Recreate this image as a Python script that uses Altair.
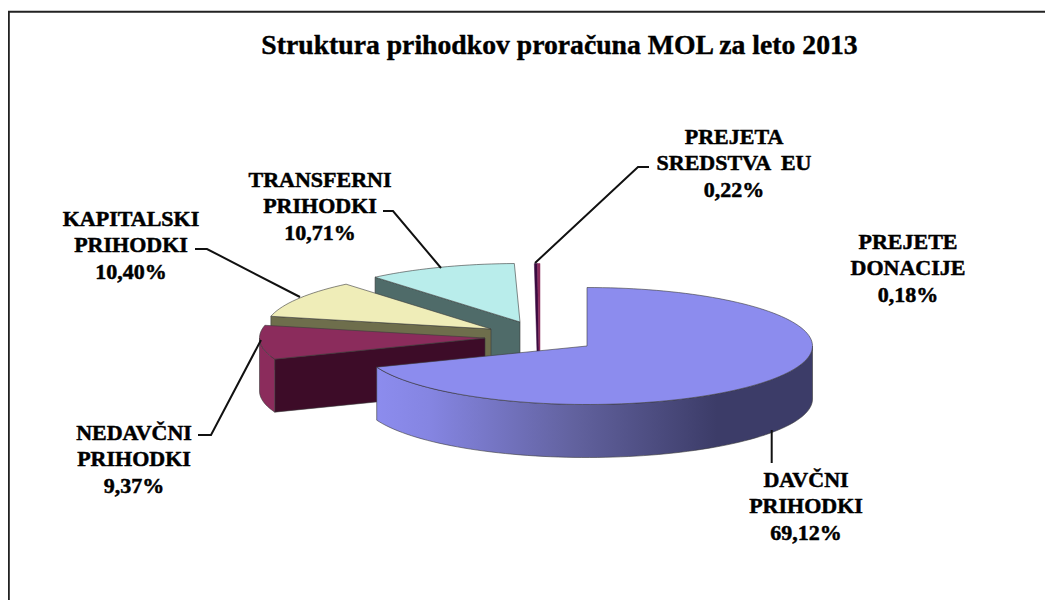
import math
import altair as alt
import pandas as pd

# ---- data ----
categories = ["DAVČNI PRIHODKI", "NEDAVČNI PRIHODKI", "KAPITALSKI PRIHODKI",
              "TRANSFERNI PRIHODKI", "PREJETA SREDSTVA EU", "PREJETE DONACIJE"]
shares = [69.12, 9.37, 10.40, 10.71, 0.22, 0.18]
title_text = "Struktura prihodkov proračuna MOL za leto 2013"
label_lines = [
    ["DAVČNI", "PRIHODKI", "69,12%"],
    ["NEDAVČNI", "PRIHODKI", "9,37%"],
    ["KAPITALSKI", "PRIHODKI", "10,40%"],
    ["TRANSFERNI", "PRIHODKI", "10,71%"],
    ["PREJETA", "SREDSTVA \u00a0EU", "0,22%"],
    ["PREJETE", "DONACIJE", "0,18%"],
]

# ---- layout (page pixels of the picture) ----
W, H = 1037, 592
OX, OY = 8, 8
A, B, DEPTH = 225.5, 58.5, 53
APEX = [(587, 346), (485, 338), (491, 329), (520, 322), (540, 322), (540, 322)]
TOP = ["#8C8CEE", "#8B2C5C", "#EFEDB8", "#B9EDEB", "#3A0A40", "#8B2C5C"]
SIDE = [None, "#8B2C5C", "#6E6E4C", "#4F6B69", "#3A0A40", "#8B2C5C"]
RADIAL = [None, "#3D0C28", "#6E6E4C", "#4F6B69", None, None]
LABEL_POS = [(806, 480), (134, 433), (131, 219), (320, 180), (734, 137), (908, 242)]
LINE_GAP = 26.3
LEADERS = [
    [(771.7, 430), (771.7, 463)],
    [(198, 435), (211, 435), (261, 340)],
    [(195, 249), (207, 249), (300, 297)],
    [(383, 211), (393, 211), (441, 268)],
    [(649, 167), (638, 167), (535, 263)],
]

# slice angles follow from the shares
edges = [0.0]
for s in shares:
    edges.append(edges[-1] + s * 3.6)


def rim(apex, t0, t1, dy=0.0):
    n = max(2, int(abs(t1 - t0) / 2) + 2)
    pts = []
    for i in range(n):
        t = math.radians(t0 + (t1 - t0) * i / (n - 1))
        pts.append((apex[0] + A * math.sin(t), apex[1] - B * math.cos(t) + dy))
    return pts


def x_scale():
    return alt.Scale(domain=[0, W], range=[0, W])


def y_scale():
    return alt.Scale(domain=[0, H], range=[0, H])


def poly(pts, fill, stroke="#3a3a3a", sw=0.6):
    pts = list(pts) + [pts[0]]
    df = pd.DataFrame({"x": [p[0] - OX for p in pts], "y": [p[1] - OY for p in pts],
                       "i": list(range(len(pts)))})
    return alt.Chart(df).mark_line(fill=fill, stroke=stroke, strokeWidth=sw, interpolate="linear").encode(
        x=alt.X("x:Q", scale=x_scale(), axis=None),
        y=alt.Y("y:Q", scale=y_scale(), axis=None),
        order="i:Q",
    )


def slice_layers(k, side_fill=None):
    ap = APEX[k]
    t0, t1 = edges[k], edges[k + 1]
    out = []
    # radial wall along the leading edge
    if RADIAL[k]:
        p = rim(ap, t0, t0)[0]
        out.append(poly([p, ap, (ap[0], ap[1] + DEPTH), (p[0], p[1] + DEPTH)], RADIAL[k]))
    # outer wall: the visible front part of the rim
    lo, hi = max(t0, 90), min(t1, 270)
    if lo < hi:
        front = rim(ap, lo, hi)
        back = rim(ap, hi, lo, DEPTH)
        out.append(poly(front + back, side_fill or SIDE[k]))
    # top face
    out.append(poly([ap] + rim(ap, t0, t1), TOP[k]))
    return out


wall_gradient = alt.Gradient(
    gradient="linear", x1=0, y1=0, x2=1, y2=0,
    stops=[alt.GradientStop(offset=0, color="#8C8CEE"),
           alt.GradientStop(offset=0.12, color="#8585E2"),
           alt.GradientStop(offset=0.45, color="#62629F"),
           alt.GradientStop(offset=0.78, color="#3C3C68"),
           alt.GradientStop(offset=1, color="#3C3C68")],
)

layers = []
# frame (left and top edges; the rest lies outside the picture)
frame = pd.DataFrame({"x": [0.8, 0.8, W], "y": [H, 3.7, 3.7], "i": [0, 1, 2]})
layers.append(alt.Chart(frame).mark_line(color="#222222", strokeWidth=2).encode(
    x=alt.X("x:Q", scale=x_scale(), axis=None),
    y=alt.Y("y:Q", scale=y_scale(), axis=None),
    order="i:Q"))

# painter's order: back slices first
layers += slice_layers(3)
# the two thin slices: wedge and wall drawn as one tapering sliver
for k, foot in ((4, (537, 539)), (5, (539, 540))):
    ap = APEX[k]
    top = rim(ap, edges[k], edges[k + 1])
    layers.append(poly(top + [(foot[1], ap[1] + 30), (foot[0], ap[1] + 30)], TOP[k], stroke=TOP[k], sw=0.5))
layers += slice_layers(2)
layers += slice_layers(1)
layers += slice_layers(0, wall_gradient)

# leaders
rows = []
for j, pts in enumerate(LEADERS):
    for i, p in enumerate(pts):
        rows.append({"j": j, "i": i, "x": p[0] - OX, "y": p[1] - OY})
layers.append(alt.Chart(pd.DataFrame(rows)).mark_line(color="#111111", strokeWidth=2).encode(
    x=alt.X("x:Q", scale=x_scale(), axis=None),
    y=alt.Y("y:Q", scale=y_scale(), axis=None),
    detail="j:N", order="i:Q"))

# labels
rows = []
for lines, pos, name in zip(label_lines, LABEL_POS, categories):
    for i, line in enumerate(lines):
        rows.append({"x": pos[0] - OX, "y": pos[1] - OY + i * LINE_GAP, "t": line, "c": name})
layers.append(alt.Chart(pd.DataFrame(rows)).mark_text(
    font="Liberation Serif", fontWeight="bold", fontSize=22, color="#000000",
    stroke="#000000", strokeWidth=0.5, align="center", baseline="middle"
).encode(
    x=alt.X("x:Q", scale=x_scale(), axis=None),
    y=alt.Y("y:Q", scale=y_scale(), axis=None),
    text="t:N"))

# title
layers.append(alt.Chart(pd.DataFrame({"x": [559.5 - OX], "y": [46 - OY], "t": [title_text]})).mark_text(
    font="Liberation Serif", fontWeight="bold", fontSize=27.7, color="#000000",
    stroke="#000000", strokeWidth=0.4, align="center", baseline="middle"
).encode(
    x=alt.X("x:Q", scale=x_scale(), axis=None),
    y=alt.Y("y:Q", scale=y_scale(), axis=None),
    text="t:N"))

chart = alt.layer(*layers).properties(
    width=W, height=H, padding=0,
    autosize=alt.AutoSizeParams(type="none"),
    background="white",
).configure_view(stroke=None)

chart.save("out.html", embed_options={"renderer": "svg", "actions": False})
